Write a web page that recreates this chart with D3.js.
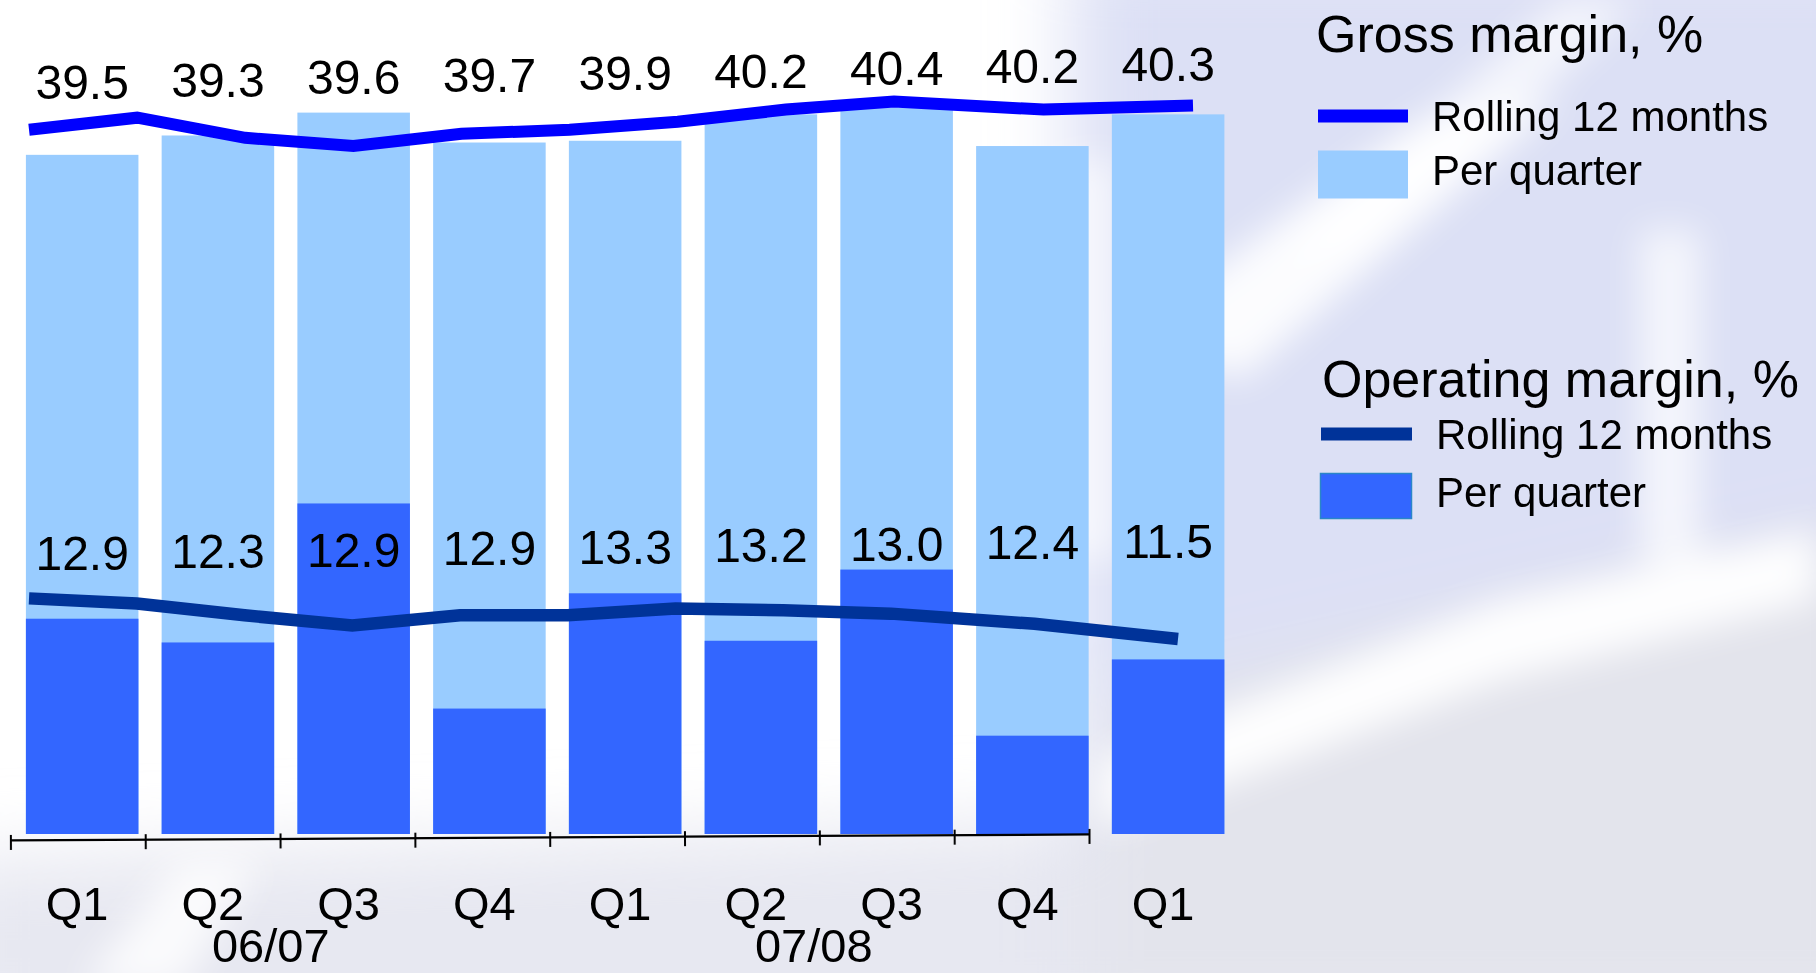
<!DOCTYPE html>
<html>
<head>
<meta charset="utf-8">
<script src="https://cdn.jsdelivr.net/npm/d3@7"></script>
<style>
  html, body { margin: 0; padding: 0; background: #ffffff; overflow: hidden; }
  svg { display: block; font-family: "Liberation Sans", Arial, Helvetica, sans-serif; }
</style>
</head>
<body>
<svg id="chart" width="1816" height="973"></svg>
<script>
// Quarters shown: fiscal 06/07, fiscal 07/08 and the first quarter of 08/09
const quarters = ["Q1", "Q2", "Q3", "Q4", "Q1", "Q2", "Q3", "Q4", "Q1"];
const fiscalYears = ["06/07", "07/08"];
const fiscalYearQuarters = [[0, 3], [4, 7]];

// Margins per quarter, %
const grossPerQuarter = [38.6, 39.7, 41.0, 39.3, 39.4, 40.9, 41.3, 39.1, 40.9];
const operatingPerQuarter = [12.7, 11.3, 19.5, 7.4, 14.2, 11.4, 15.6, 5.8, 10.3];

// Rolling 12-month margins, %; the series starts two quarters earlier (Q3 and Q4 05/06)
const grossRolling = [39.7, 40.0, 39.5, 39.3, 39.6, 39.7, 39.9, 40.2, 40.4, 40.2, 40.3];
const operatingRolling = [13.9, 13.6, 12.9, 12.3, 12.9, 12.9, 13.3, 13.2, 13.0, 12.4, 11.5];
const leadQuarters = 2;

const legendGross = ["Gross margin, %", "Rolling 12 months", "Per quarter"];
const legendOperating = ["Operating margin, %", "Rolling 12 months", "Per quarter"];

const colors = {
  grossBar: "#99ccff",
  opBar: "#3366ff",
  grossLine: "#0000ff",
  opLine: "#003399",
  text: "#000000"
};

const W = 1816, H = 973;
const baseY = 834;
const svg = d3.select("#chart");

// ---------- soft photographic backdrop ----------
const defs = svg.append("defs");
const blur = defs.append("filter").attr("id", "soft").attr("x", "-20%").attr("y", "-20%").attr("width", "140%").attr("height", "140%");
blur.append("feGaussianBlur").attr("stdDeviation", 38);
const blurSmall = defs.append("filter").attr("id", "softer").attr("x", "-20%").attr("y", "-20%").attr("width", "140%").attr("height", "140%");
blurSmall.append("feGaussianBlur").attr("stdDeviation", 18);

svg.append("rect").attr("width", W).attr("height", H).attr("fill", "#ffffff");
const bg = svg.append("g").attr("filter", "url(#soft)");
const bgShapes = [
  { pts: [[1070, -60], [1900, -60], [1900, 1040], [1070, 1040]], fill: "#dadef4", op: 0.95 },
  { pts: [[-60, 860], [1100, 820], [1100, 1040], [-60, 1040]], fill: "#e4e6ef", op: 0.9 },
  { pts: [[1100, 700], [1900, 520], [1900, 1040], [1100, 1040]], fill: "#e3e4ec", op: 1 }
];
bg.selectAll("polygon").data(bgShapes).join("polygon")
  .attr("points", d => d.pts.map(p => p.join(",")).join(" "))
  .attr("fill", d => d.fill).attr("opacity", d => d.op);

const bgLight = svg.append("g").attr("filter", "url(#softer)");
const lightShapes = [
  { pts: [[1130, 330], [1420, 120], [1560, 100], [1240, 380]], op: 0.9 },
  { pts: [[1280, 250], [1560, 0], [1640, 0], [1360, 260]], op: 0.7 },
  { pts: [[1640, 230], [1700, 230], [1700, 560], [1640, 560]], op: 0.7 },
  { pts: [[1100, 760], [1500, 600], [1816, 530], [1816, 600], [1500, 680], [1100, 830]], op: 0.95 },
  { pts: [[80, 990], [180, 860], [260, 860], [180, 990]], op: 0.8 },
  { pts: [[1040, 160], [1120, 160], [1120, 560], [1040, 560]], op: 0.6 }
];
bgLight.selectAll("polygon").data(lightShapes).join("polygon")
  .attr("points", d => d.pts.map(p => p.join(",")).join(" "))
  .attr("fill", "#ffffff").attr("opacity", d => d.op);

// ---------- scales ----------
const x = d3.scaleBand()
  .domain(d3.range(quarters.length))
  .range([14.3, 1236])
  .paddingInner(0.171)
  .paddingOuter(0.0855);

const yGross = d3.scaleLinear().domain([0, 47.4]).range([baseY, 0]);
const yOp = d3.scaleLinear().domain([0, 49.2]).range([baseY, 0]);
const yGrossRolling = d3.scaleLinear().domain([39.0, 40.5]).range([158, 97.5]);

const lastIdx = grossRolling.length - 1;
const xGrossRolling = d3.scaleLinear().domain([0, lastIdx - 2, lastIdx]).range([29, 894, 1193]);
const xOpRolling = d3.scaleLinear().domain([0, lastIdx - 2, lastIdx]).range([29, 891, 1178]);

// ---------- bars ----------
svg.append("g").selectAll("rect").data(grossPerQuarter).join("rect")
  .attr("x", (d, i) => x(i))
  .attr("width", x.bandwidth())
  .attr("y", d => yGross(d))
  .attr("height", d => baseY - yGross(d))
  .attr("fill", colors.grossBar);

svg.append("g").selectAll("rect").data(operatingPerQuarter).join("rect")
  .attr("x", (d, i) => x(i))
  .attr("width", x.bandwidth())
  .attr("y", d => yOp(d))
  .attr("height", d => baseY - yOp(d))
  .attr("fill", colors.opBar);

// ---------- rolling lines ----------
const grossLine = d3.line().x((d, i) => xGrossRolling(i)).y(d => yGrossRolling(d));
const opLine = d3.line().x((d, i) => xOpRolling(i)).y(d => yOp(d));

svg.append("path").datum(grossRolling)
  .attr("d", grossLine)
  .attr("fill", "none").attr("stroke", colors.grossLine)
  .attr("stroke-width", 12).attr("stroke-linejoin", "miter").attr("stroke-linecap", "butt");

svg.append("path").datum(operatingRolling)
  .attr("d", opLine)
  .attr("fill", "none").attr("stroke", colors.opLine)
  .attr("stroke-width", 12.5).attr("stroke-linejoin", "miter").attr("stroke-linecap", "butt");

// ---------- value labels (rolling 12 months per quarter) ----------
const fmt = d3.format(".1f");
const grossLabelRow = d3.scaleLinear().domain([0, quarters.length - 1]).range([98.8, 81]);
const opLabelRow = d3.scaleLinear().domain([0, quarters.length - 1]).range([570, 557.6]);

svg.append("g").selectAll("text").data(grossRolling.slice(leadQuarters)).join("text")
  .attr("x", (d, i) => x(i) + x.bandwidth() / 2)
  .attr("y", (d, i) => grossLabelRow(i))
  .attr("text-anchor", "middle")
  .attr("font-size", 48)
  .attr("fill", colors.text)
  .text(d => fmt(d));

svg.append("g").selectAll("text").data(operatingRolling.slice(leadQuarters)).join("text")
  .attr("x", (d, i) => x(i) + x.bandwidth() / 2)
  .attr("y", (d, i) => opLabelRow(i))
  .attr("text-anchor", "middle")
  .attr("font-size", 48)
  .attr("fill", colors.text)
  .text(d => fmt(d));

// ---------- category axis ----------
const axisScale = d3.scaleLinear().domain([0, quarters.length - 1]).range([10.4, 1089]);
const axis = d3.axisBottom(axisScale)
  .tickValues(d3.range(quarters.length))
  .tickFormat("")
  .tickSizeInner(10)
  .tickSizeOuter(0);

const axisG = svg.append("g")
  .attr("transform", "translate(0,840) rotate(-0.32)")
  .call(axis);
axisG.select(".domain").attr("stroke", "#000").attr("stroke-width", 2.2);
axisG.selectAll(".tick line").attr("stroke", "#000").attr("stroke-width", 2).attr("y1", -5);

const labelShift = -5;
svg.append("g").selectAll("text").data(quarters).join("text")
  .attr("x", (d, i) => x(i) + x.bandwidth() / 2 + labelShift)
  .attr("y", 920)
  .attr("text-anchor", "middle")
  .attr("font-size", 47)
  .attr("fill", colors.text)
  .text(d => d);

const yearShift = -15;
svg.append("g").selectAll("text").data(fiscalYears).join("text")
  .attr("x", (d, i) => {
    const [a, b] = fiscalYearQuarters[i];
    return (x(a) + x(b) + x.bandwidth()) / 2 + yearShift;
  })
  .attr("y", 962)
  .attr("text-anchor", "middle")
  .attr("font-size", 47)
  .attr("fill", colors.text)
  .text(d => d);

// ---------- legend ----------
function legendBlock(g, texts, lineColor, boxColor, boxStroke) {
  g.append("text").attr("x", 0).attr("y", 0).attr("font-size", 52).attr("fill", colors.text).text(texts[0]);
  g.append("line").attr("class", "swatch-line")
    .attr("stroke", lineColor).attr("stroke-width", 13);
  g.append("text").attr("class", "item1").attr("font-size", 42).attr("fill", colors.text).text(texts[1]);
  g.append("rect").attr("class", "swatch-box").attr("fill", boxColor)
    .attr("stroke", boxStroke || "none").attr("stroke-width", boxStroke ? 1.5 : 0);
  g.append("text").attr("class", "item2").attr("font-size", 42).attr("fill", colors.text).text(texts[2]);
}

const lgGross = svg.append("g").attr("transform", "translate(1316,52)");
legendBlock(lgGross, legendGross, colors.grossLine, colors.grossBar, null);
lgGross.select(".swatch-line").attr("x1", 2).attr("x2", 92).attr("y1", 64).attr("y2", 64);
lgGross.select(".item1").attr("x", 116).attr("y", 79);
lgGross.select(".swatch-box").attr("x", 2).attr("y", 98.5).attr("width", 90).attr("height", 48);
lgGross.select(".item2").attr("x", 116).attr("y", 133);

const lgOp = svg.append("g").attr("transform", "translate(1322,397)");
legendBlock(lgOp, legendOperating, colors.opLine, colors.opBar, "#2a86c8");
lgOp.select(".swatch-line").attr("x1", -1).attr("x2", 90).attr("y1", 37).attr("y2", 37);
lgOp.select(".item1").attr("x", 114).attr("y", 52);
lgOp.select(".swatch-box").attr("x", -1.5).attr("y", 76.5).attr("width", 91).attr("height", 45);
lgOp.select(".item2").attr("x", 114).attr("y", 110);
</script>
</body>
</html>
